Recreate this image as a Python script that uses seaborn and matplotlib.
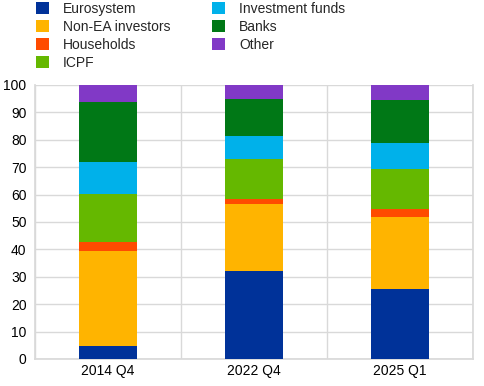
import matplotlib
matplotlib.use("Agg")
import matplotlib.pyplot as plt
from matplotlib.patches import Patch
import numpy as np
import pandas as pd
import seaborn as sns

# Data (% share of holdings)
periods = ["2014 Q4", "2022 Q4", "2025 Q1"]
sectors = ["Eurosystem", "Non-EA investors", "Households", "ICPF",
           "Investment funds", "Banks", "Other"]
eurosystem = [4.9, 32.1, 25.5]
non_ea = [34.5, 24.5, 26.3]
households = [3.3, 1.6, 2.9]
icpf = [17.5, 14.8, 14.6]
inv_funds = [11.7, 8.4, 9.5]
banks = [21.9, 13.5, 15.7]
other = [6.2, 5.1, 5.5]

colors = ["#003299", "#FFB400", "#FF4B00", "#65B800",
          "#00B1EA", "#007816", "#8139C6"]

series = [eurosystem, non_ea, households, icpf, inv_funds, banks, other]
df = pd.DataFrame({s: v for s, v in zip(sectors, series)}, index=periods)

sns.set_theme(style="white")
plt.rcParams['font.family'] = ['Liberation Sans', 'DejaVu Sans']

fig = plt.figure(figsize=(4.84, 3.86), dpi=100)
ax = fig.add_axes([0.072, 0.07, 0.905, 0.71])

bottom = np.zeros(len(periods))
for sector, color in zip(sectors, colors):
    sns.barplot(x=periods, y=df[sector].values, color=color, width=0.4,
                bottom=bottom, ax=ax, saturation=1, linewidth=0, zorder=3)
    bottom += df[sector].values

ax.set_ylim(0, 100)
ax.set_xlim(-0.5, 2.5)
ax.set_yticks(range(0, 101, 10))
ax.set_xticks([-0.5, 0.5, 1.5, 2.5], minor=True)
ax.grid(axis="y", color="#d9d9d9", linewidth=1, zorder=0)
ax.grid(axis="x", which="minor", color="#d9d9d9", linewidth=1, zorder=0)
ax.tick_params(axis="both", which="both", length=0, labelsize=10, colors="black")
ax.tick_params(axis="y", pad=6)
for side in ["left", "bottom", "right"]:
    ax.spines[side].set_color("#d9d9d9")
ax.spines["top"].set_visible(False)

handles = [Patch(facecolor=c, edgecolor="none", label=s) for s, c in zip(sectors, colors)]
fig.legend(handles=handles, ncol=2, loc="upper left", bbox_to_anchor=(0.062, 1.01),
           frameon=False, fontsize=10, handlelength=0.95, handleheight=0.95,
           handletextpad=1.0, columnspacing=3.0, labelspacing=0.3, borderaxespad=0)

fig.savefig("out.png", dpi=100)
